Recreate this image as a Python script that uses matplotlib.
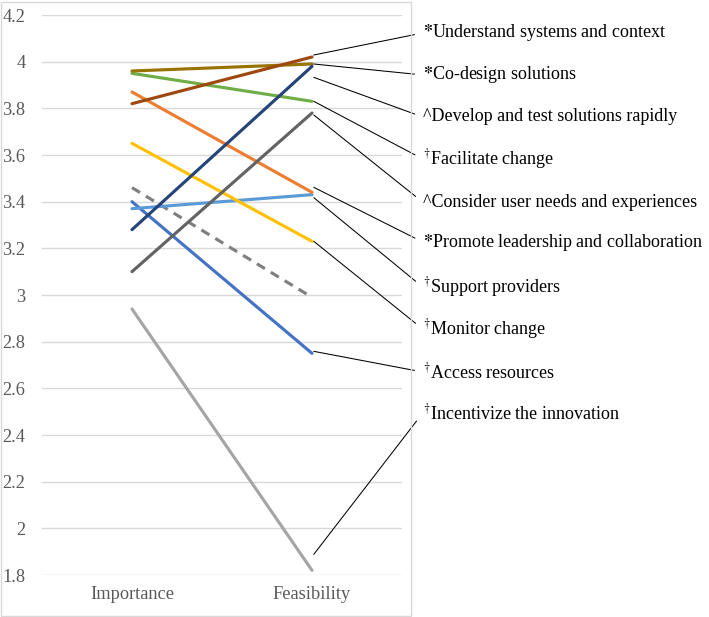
import matplotlib.pyplot as plt
from matplotlib.patches import Rectangle

plt.rcParams['font.family'] = ['Liberation Serif', 'DejaVu Serif']
plt.rcParams['mathtext.fontset'] = 'stix'

# data
categories = ['Importance', 'Feasibility']
series_names = [
    r'$\mathbf{*}$Understand systems and context',
    r'$\mathbf{*}$Co-design solutions',
    '^Develop and test solutions rapidly',
    r'$^{\dagger}$Facilitate change',
    '^Consider user needs and experiences',
    r'$\mathbf{*}$Promote leadership and collaboration',
    r'$^{\dagger}$Support providers',
    r'$^{\dagger}$Monitor change',
    r'$^{\dagger}$Access resources',
    r'$^{\dagger}$Incentivize the innovation',
]
importance = [3.82, 3.96, 3.28, 3.95, 3.10, 3.87, 3.37, 3.65, 3.40, 2.94]
feasibility = [4.02, 3.99, 3.98, 3.83, 3.78, 3.44, 3.43, 3.23, 2.75, 1.82]
# unlabelled dashed series
dashed_values = [3.46, 2.99]

colors = ['#9E480E', '#997300', '#264478', '#70AD47', '#636363',
          '#ED7D31', '#5B9BD5', '#FFC000', '#4472C4', '#A5A5A5']
# drawing order (last on top)
draw_order = [9, 8, 6, 7, 5, 3, 1, 0, 4, 2]

# label layout
label_x = 1.615
label_y = [4.123, 3.943, 3.763, 3.583, 3.398, 3.227, 3.034, 2.854, 2.670, 2.494]
leader_dy = [2, 0, -11, 0, -2, 5, -3, 0, 2, 16]  # pixels, start of leader line

fig = plt.figure(figsize=(7.09, 6.17), dpi=100)
ax = fig.add_axes([42 / 709, 1 - 575 / 617, 360 / 709, 560 / 617])

x = [0, 1]
ax.plot(x, dashed_values, color='#7F7F7F', lw=2.25, ls=(0, (3, 2.2)),
        solid_capstyle='round', zorder=2)
for i in draw_order:
    ax.plot(x, [importance[i], feasibility[i]], color=colors[i], lw=2.25,
            solid_capstyle='round', zorder=3)

for i, name in enumerate(series_names):
    ax.annotate(name, xy=(1.01, feasibility[i] + leader_dy[i] / 233.3),
                xytext=(label_x, label_y[i]),
                textcoords='data', fontsize=13, color='black', va='center', ha='left',
                annotation_clip=False,
                arrowprops=dict(arrowstyle='-', color='black', lw=0.75,
                                shrinkA=4, shrinkB=0, relpos=(0, 0.5)))

ax.set_xlim(-0.5, 1.5)
ax.set_ylim(1.8, 4.2)
ax.set_xticks(x)
ax.set_xticklabels(categories)
ax.set_yticks([1.8 + 0.2 * k for k in range(13)])
ax.set_yticklabels(['1.8', '2', '2.2', '2.4', '2.6', '2.8', '3', '3.2', '3.4',
                    '3.6', '3.8', '4', '4.2'])
ax.tick_params(axis='both', length=0, labelsize=13.2, labelcolor='#595959')
ax.tick_params(axis='x', pad=8)
ax.tick_params(axis='y', pad=12)
ax.grid(axis='y', color='#D9D9D9', lw=1)
ax.set_axisbelow(True)
for s in ax.spines.values():
    s.set_visible(False)

# light frame around the chart area
fig.patches.append(Rectangle((0.5 / 709, 1 / 617), 410 / 709, 614 / 617,
                             transform=fig.transFigure, fill=False,
                             edgecolor='#D9D9D9', lw=1))

fig.savefig('out.png', dpi=100)
